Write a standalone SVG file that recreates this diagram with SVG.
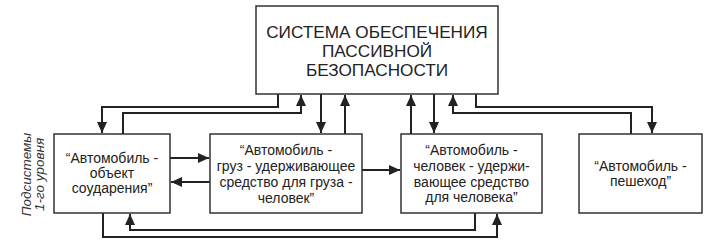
<svg xmlns="http://www.w3.org/2000/svg" width="725" height="248" viewBox="0 0 725 248">
<style>
.box{fill:#fff;stroke:#333;stroke-width:1.5}
.t{font-family:"Liberation Sans",Arial,sans-serif;fill:#222;text-anchor:middle}
.tt{font-size:17.2px}
.bt{font-size:14px}
.side{font-family:"Liberation Sans",Arial,sans-serif;font-style:italic;font-size:13.5px;fill:#333;text-anchor:middle}
.c{fill:none;stroke:#222;stroke-width:2}
.a{marker-end:url(#ah)}
</style>
<defs>
<marker id="ah" markerUnits="userSpaceOnUse" markerWidth="11" markerHeight="10" refX="11" refY="5" orient="auto">
<path d="M0,0 L11,5 L0,10 z" fill="#222"/>
</marker>
</defs>
<rect width="725" height="248" fill="#fff"/>
<g id="connectors">
<path class="c a" d="M278,94 V107 H102 V133"/>
<path class="c a" d="M123,134 V113 H301 V95"/>
<path class="c a" d="M321,94 V133"/>
<path class="c a" d="M345,134 V95"/>
<path class="c a" d="M411,134 V95"/>
<path class="c a" d="M434,94 V133"/>
<path class="c a" d="M631,134 V113 H453 V95"/>
<path class="c a" d="M476,94 V107 H652 V133"/>
<path class="c a" d="M170,158 H209"/>
<path class="c a" d="M210,182 H171"/>
<path class="c a" d="M362,170 H400"/>
<path class="c a" d="M475,213 V230 H130 V214"/>
<path class="c a" d="M103,213 V237 H497 V214"/>
</g>
<g id="top">
<rect class="box" x="256" y="6" width="242" height="88"/>
<text class="t tt" x="377" y="38">СИСТЕМА ОБЕСПЕЧЕНИЯ</text>
<text class="t tt" x="377" y="57">ПАССИВНОЙ</text>
<text class="t tt" x="377" y="76">БЕЗОПАСНОСТИ</text>
</g>
<g id="side">
<text class="side" transform="translate(31,174.5) rotate(-90)">Подсистемы</text>
<text class="side" transform="translate(44,174.5) rotate(-90)">1-го уровня</text>
</g>
<g id="n1">
<rect class="box" x="54" y="134" width="116" height="79"/>
<text class="t bt" x="112" y="163">“Автомобиль -</text>
<text class="t bt" x="112" y="178">объект</text>
<text class="t bt" x="112" y="193">соударения”</text>
</g>
<g id="n2">
<rect class="box" x="210" y="134" width="152" height="79"/>
<text class="t bt" x="286" y="155">“Автомобиль -</text>
<text class="t bt" x="286" y="171">груз - удерживающее</text>
<text class="t bt" x="286" y="187">средство для груза -</text>
<text class="t bt" x="286" y="203">человек”</text>
</g>
<g id="n3">
<rect class="box" x="401" y="134" width="141" height="79"/>
<text class="t bt" x="471.5" y="155">“Автомобиль -</text>
<text class="t bt" x="471.5" y="171">человек - удержи-</text>
<text class="t bt" x="471.5" y="186.5">вающее средство</text>
<text class="t bt" x="471.5" y="202">для человека”</text>
</g>
<g id="n4">
<rect class="box" x="579" y="134" width="123" height="79"/>
<text class="t bt" x="640.5" y="171">“Автомобиль -</text>
<text class="t bt" x="640.5" y="186">пешеход”</text>
</g>
</svg>
